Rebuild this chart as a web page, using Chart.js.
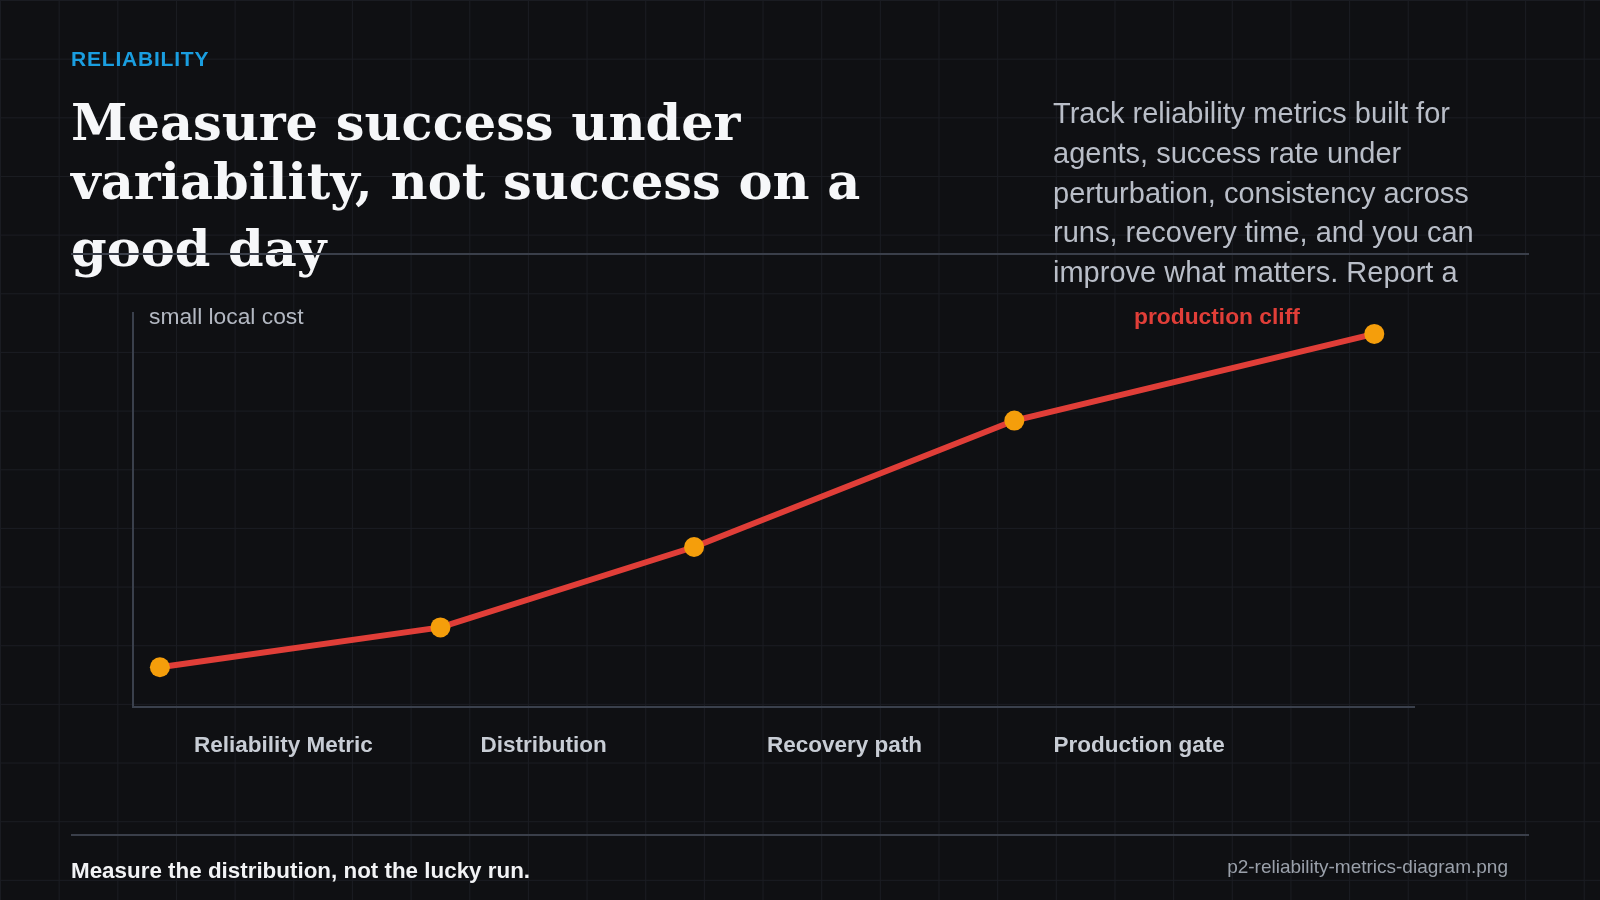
<!DOCTYPE html>
<html>
<head>
<meta charset="utf-8">
<script src="https://cdn.jsdelivr.net/npm/chart.js@4/dist/chart.umd.min.js"></script>
<style>
  html, body { margin: 0; padding: 0; }
  body {
    width: 1600px; height: 900px; overflow: hidden; position: relative;
    background-color: #0f1013;
    background-image: linear-gradient(to right, #1a1c22 1px, transparent 1px),
                      linear-gradient(to bottom, #1a1c22 1px, transparent 1px);
    background-size: 58.667px 58.667px;
    font-family: "Liberation Sans", Arial, sans-serif;
  }
  #chart { position: absolute; left: 0; top: 0; }
  .abs { position: absolute; white-space: nowrap; }
  .kicker { left: 71px; top: 48px; font-size: 21px; line-height: 21px; font-weight: bold; color: #1a9ee0; letter-spacing: 0.8px; }
  .title { left: 71px; font-family: "DejaVu Serif", serif; font-weight: bold; font-size: 51px; line-height: 51px; color: #f6f7f9; }
  .lede { left: 1053px; top: 94px; font-size: 29px; line-height: 39.75px; color: #b9bec8; }
  .rule { left: 71px; width: 1458px; height: 2px; background: #3a3f4a; }
  .note { top: 305px; font-size: 22.8px; line-height: 22.8px; }
  .foot { left: 71px; top: 860px; font-size: 22.4px; line-height: 22.4px; font-weight: bold; color: #f2f3f5; }
  .file { right: 92px; top: 857px; font-size: 19px; line-height: 19px; color: #9aa0aa; }
</style>
</head>
<body>
<canvas id="chart" width="1600" height="900"></canvas>

<div class="abs kicker">RELIABILITY</div>
<div class="abs title" style="top: 97px;">Measure success under</div>
<div class="abs title" style="top: 156px;">variability, not success on a</div>
<div class="abs title" style="top: 223px;">good day</div>
<div class="abs lede">Track reliability metrics built for<br>agents, success rate under<br>perturbation, consistency across<br>runs, recovery time, and you can<br>improve what matters. Report a</div>
<div class="abs rule" style="top: 253px;"></div>

<div class="abs note" style="left: 149px; color: #b3b8c2;">small local cost</div>
<div class="abs note" style="left: 1134px; color: #e03e38; font-weight: bold;">production cliff</div>

<div class="abs rule" style="top: 834px;"></div>
<div class="abs foot">Measure the distribution, not the lucky run.</div>
<div class="abs file">p2-reliability-metrics-diagram.png</div>

<script>
// stage labels along the bottom
const categories = ['Reliability Metric', 'Distribution', 'Recovery path', 'Production gate'];
// cost curve, position along the pipeline (0-100) and relative cost (0-100)
const pointX = [2.1, 24.0, 43.8, 68.8, 96.9];
const pointY = [10.1, 20.2, 40.6, 72.7, 94.7];

const lineColor = '#e03e38';
const dotColor = '#f59e0b';
const axisColor = '#3a404c';

const ctx = document.getElementById('chart').getContext('2d');
new Chart(ctx, {
    type: 'line',
    data: {
        datasets: [{
            label: 'cost',
            data: pointX.map((x, i) => ({ x: x, y: pointY[i] })),
            borderColor: lineColor,
            borderWidth: 6,
            pointBackgroundColor: dotColor,
            pointBorderWidth: 0,
            pointRadius: 10,
            tension: 0
        }]
    },
    options: {
        responsive: false,
        animation: false,
        layout: { padding: { left: 133, right: 186, top: 313, bottom: 133 } },
        plugins: { legend: { display: false }, tooltip: { enabled: false } },
        scales: {
            x: {
                type: 'linear', position: 'bottom', weight: 0,
                min: 0, max: 100,
                ticks: { display: false },
                grid: { display: false, drawTicks: false },
                border: { color: axisColor, width: 2 }
            },
            x2: {
                type: 'linear', position: 'bottom', weight: 1,
                min: -0.213, max: 4.258,
                afterBuildTicks: (axis) => { axis.ticks = categories.map((c, i) => ({ value: i })); },
                afterFit: (axis) => { axis.height = 60; },
                grid: { display: false, drawTicks: false },
                border: { display: false },
                ticks: {
                    align: 'start', padding: 25, autoSkip: false, maxRotation: 0,
                    color: '#c8cdd5',
                    font: { family: 'Liberation Sans', size: 22.5, weight: 'bold' },
                    callback: (v) => categories[v] ?? ''
                }
            },
            y: {
                type: 'linear', min: 0, max: 100,
                ticks: { display: false },
                grid: { display: false, drawTicks: false },
                border: { color: axisColor, width: 2 }
            }
        }
    }
});
</script>
</body>
</html>
